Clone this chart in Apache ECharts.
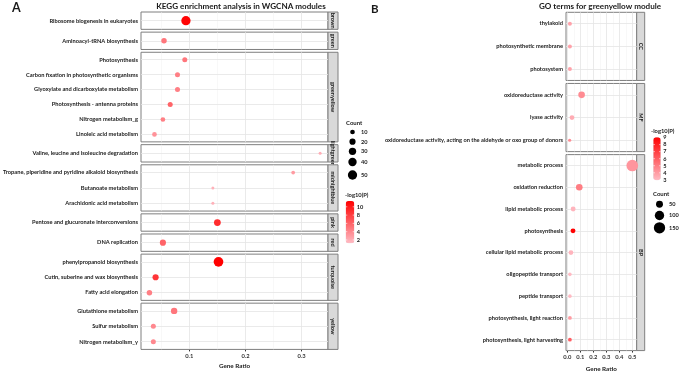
<!DOCTYPE html>
<html>
<head>
<meta charset="utf-8">
<script src="https://cdn.jsdelivr.net/npm/echarts@6/dist/echarts.min.js"></script>
<style>
  html, body { margin: 0; padding: 0; background: #fff; }
  #main { width: 685px; height: 371px; }
</style>
</head>
<body>
<div id="main"></div>
<script>
// ---- panel A: KEGG enrichment, one row per term ----
const keggModule = ['brown', 'green',
  'greenyellow', 'greenyellow', 'greenyellow', 'greenyellow', 'greenyellow', 'greenyellow',
  'lightgreen', 'midnightblue', 'midnightblue', 'midnightblue', 'pink', 'red',
  'turquoise', 'turquoise', 'turquoise', 'yellow', 'yellow', 'yellow'];
const keggTerm = ['Ribosome biogenesis in eukaryotes', 'Aminoacyl-tRNA biosynthesis',
  'Photosynthesis', 'Carbon fixation in photosynthetic organisms', 'Glyoxylate and dicarboxylate metabolism',
  'Photosynthesis - antenna proteins', 'Nitrogen metabolism_g', 'Linoleic acid metabolism',
  'Valine, leucine and isoleucine degradation',
  'Tropane, piperidine and pyridine alkaloid biosynthesis', 'Butanoate metabolism', 'Arachidonic acid metabolism',
  'Pentose and glucuronate interconversions', 'DNA replication',
  'phenylpropanoid biosynthesis', 'Cutin, suberine and wax biosynthesis', 'Fatty acid elongation',
  'Glutathione metabolism', 'Sulfur metabolism', 'Nitrogen metabolism_y'];
const keggRatio = [0.094, 0.055, 0.092, 0.079, 0.079, 0.066, 0.053, 0.038, 0.333, 0.285, 0.142, 0.142,
  0.150, 0.053, 0.152, 0.040, 0.029, 0.073, 0.036, 0.036];
const keggCount = [50, 15, 12, 12, 12, 12, 10, 10, 2, 5, 2, 2, 25, 20, 55, 20, 15, 22, 12, 12];
const keggLogP = [11.2, 5, 5, 4.5, 4.5, 6, 4.5, 3.5, 2, 3, 1.8, 1.8, 9, 6, 11.4, 8.5, 4.5, 5, 4, 4];
const keggXTicks = [0.1, 0.2, 0.3];
const keggXMinor = [0.05, 0.15, 0.25];
const keggCountLegend = [10, 20, 30, 40, 50];
const keggColorTicks = [10, 8, 6, 4, 2];

// ---- panel B: GO terms for greenyellow ----
const goOntology = ['CC', 'CC', 'CC', 'MF', 'MF', 'MF', 'BP', 'BP', 'BP', 'BP', 'BP', 'BP', 'BP', 'BP', 'BP'];
const goTerm = ['thylakoid', 'photosynthetic membrane', 'photosystem',
  'oxidoreductase activity', 'lyase activity',
  'oxidoreductase activity, acting on the aldehyde or oxo group of donors',
  'metabolic process', 'oxidation reduction', 'lipid metabolic process', 'photosynthesis',
  'cellular lipid metabolic process', 'oligopeptide transport', 'peptide transport',
  'photosynthesis, light reaction', 'photosynthesis, light harvesting'];
const goRatio = [0.02, 0.02, 0.02, 0.11, 0.036, 0.018, 0.5, 0.092, 0.045, 0.044, 0.028, 0.02, 0.02, 0.02, 0.02];
const goCount = [10, 10, 10, 45, 18, 3, 160, 45, 20, 20, 18, 6, 6, 8, 8];
const goLogP = [3.8, 3.8, 3.8, 4.5, 3.5, 4.5, 4.2, 5, 3.2, 9, 3.2, 3, 3, 4, 6];
const goXTicks = [0.0, 0.1, 0.2, 0.3, 0.4, 0.5];
const goXMinor = [0.05, 0.15, 0.25, 0.35, 0.45];
const goCountLegend = [50, 100, 150];
const goColorTicks = [9, 8, 7, 6, 5, 4, 3];

const FONT = 'Lato';
const INK = '#1a1a1a';
const sizeA = c => Math.sqrt(6 + 1.6 * c);
const sizeB = c => Math.sqrt(8 + 0.8 * c);

const panels = [
  {
    module: keggModule, term: keggTerm, ratio: keggRatio, count: keggCount, logP: keggLogP,
    left: 141, width: 187, top: 12, unit: 14.45, gap: 2.8, stripW: 10, nameGap: 14,
    xmin: 0.014, xmax: 0.347, ticks: keggXTicks, minor: keggXMinor, size: sizeA
  },
  {
    module: goOntology, term: goTerm, ratio: goRatio, count: goCount, logP: goLogP,
    left: 566, width: 70.7, top: 12.3, unit: 21.3, gap: 3, stripW: 8, nameGap: 10.5,
    xmin: -0.01, xmax: 0.534, ticks: goXTicks, minor: goXMinor, size: sizeB
  }
];

const grids = [], xAxes = [], yAxes = [], series = [], graphics = [];
const seriesOfPanel = [[], []];

panels.forEach((p, pi) => {
  const groups = [];
  p.module.forEach((m, i) => {
    let g = groups.find(x => x.name === m);
    if (!g) { g = { name: m, idx: [] }; groups.push(g); }
    g.idx.push(i);
  });
  let top = p.top;
  groups.forEach((g, gi) => {
    const n = g.idx.length;
    const h = (n + 0.2) * p.unit;
    const last = gi === groups.length - 1;
    const k = grids.length;
    const terms = g.idx.map(i => p.term[i]);
    grids.push({
      left: p.left, top: top, width: p.width, height: h,
      show: true, backgroundColor: '#fff', borderColor: '#7f7f7f', borderWidth: 1,
      outerBoundsMode: 'none'
    });
    xAxes.push({
      gridIndex: k, type: 'value', min: p.xmin, max: p.xmax,
      splitLine: { show: false }, axisLine: { show: false },
      axisTick: { show: last, customValues: p.ticks, length: 2, lineStyle: { color: '#333' } },
      axisLabel: {
        show: last, customValues: p.ticks, margin: 4,
        formatter: v => v.toFixed(1),
        fontSize: 5.8, fontWeight: 'bold', color: '#333', fontFamily: FONT
      },
      name: last ? 'Gene Ratio' : '', nameLocation: 'middle', nameGap: p.nameGap,
      nameTextStyle: { fontSize: 6.3, fontWeight: 'bold', color: INK, fontFamily: FONT }
    });
    yAxes.push({
      gridIndex: k, type: 'category', data: terms, inverse: true,
      axisLine: { show: false }, splitLine: { show: false },
      axisTick: { alignWithLabel: true, length: 2, lineStyle: { color: '#333' } },
      axisLabel: { margin: 3, fontSize: 5.7, fontWeight: 'bold', color: INK, fontFamily: FONT }
    });
    const lines = [];
    p.ticks.forEach(v => lines.push({ xAxis: v, lineStyle: { color: '#e4e4e4', width: 0.8, type: 'solid' } }));
    p.minor.forEach(v => lines.push({ xAxis: v, lineStyle: { color: '#f1f1f1', width: 0.5, type: 'solid' } }));
    terms.forEach(t => lines.push({ yAxis: t, lineStyle: { color: '#e4e4e4', width: 0.8, type: 'solid' } }));
    seriesOfPanel[pi].push(series.length);
    series.push({
      type: 'scatter', xAxisIndex: k, yAxisIndex: k, z: 3,
      data: g.idx.map(i => [p.ratio[i], p.term[i], p.logP[i], p.count[i]]),
      symbolSize: val => p.size(val[3]),
      itemStyle: { opacity: 1 },
      emphasis: { disabled: true },
      markLine: {
        silent: true, z: 1, animation: false, symbol: ['none', 'none'],
        label: { show: false }, emphasis: { disabled: true },
        data: lines
      }
    });
    // strip on the right
    graphics.push({
      type: 'rect', silent: true,
      shape: { x: p.left + p.width, y: top, width: p.stripW, height: h },
      style: { fill: '#d9d9d9', stroke: '#7f7f7f', lineWidth: 1 }
    });
    graphics.push({
      type: 'text', silent: true,
      x: p.left + p.width + p.stripW / 2, y: top + h / 2, rotation: -Math.PI / 2,
      style: { text: g.name, align: 'center', verticalAlign: 'middle', fontSize: 5.6, fontWeight: 'bold',
        fill: INK, fontFamily: FONT }
    });
    top += h + p.gap;
  });
});

// titles and panel letters
function addText(x, y, text, size, align) {
  graphics.push({
    type: 'text', silent: true, x: x, y: y,
    style: { text: text, align: align || 'center', verticalAlign: 'middle', fontSize: size,
      fontWeight: 'bold', fill: INK, fontFamily: FONT }
  });
}
addText(241, 6, 'KEGG enrichment analysis in WGCNA modules', 8.1);
addText(600, 6, 'GO terms for greenyellow module', 8.1);
addText(12, 8, 'A', 12.5, 'left');
addText(371, 9, 'B', 11.5, 'left');

// count legends
function countLegend(x, titleY, cys, counts, sizeFn, labelX) {
  addText(x, titleY, 'Count', 6, 'left');
  counts.forEach((c, i) => {
    graphics.push({
      type: 'circle', silent: true,
      shape: { cx: x + 6.5, cy: cys[i], r: sizeFn(c) / 2 },
      style: { fill: '#000' }
    });
    addText(labelX, cys[i], String(c), 5.6, 'left');
  });
}
countLegend(346, 122.7, [132, 141.7, 151.3, 162, 175], keggCountLegend, sizeA, 361);
countLegend(653, 194, [204.3, 215.5, 227.8], goCountLegend, sizeB, 669);

// colour legends
const colorBars = [
  { min: 1.2, max: 11.4, left: 345.7, top: 201, w: 8.6, h: 42.3, ticks: keggColorTicks, titleX: 345, titleY: 195.5 },
  { min: 2.95, max: 9.05, left: 653.3, top: 137.2, w: 7.4, h: 43, ticks: goColorTicks, titleX: 651, titleY: 131 }
];
const visualMaps = colorBars.map((b, i) => {
  addText(b.titleX, b.titleY, '-log10(P)', 5.8, 'left');
  b.ticks.forEach(t => {
    const y = b.top + (b.max - t) / (b.max - b.min) * b.h;
    graphics.push({
      type: 'line', silent: true, z: 100,
      shape: { x1: b.left, y1: y, x2: b.left + 1.6, y2: y }, style: { stroke: '#fff', lineWidth: 0.6 }
    });
    graphics.push({
      type: 'line', silent: true, z: 100,
      shape: { x1: b.left + b.w - 1.6, y1: y, x2: b.left + b.w, y2: y }, style: { stroke: '#fff', lineWidth: 0.6 }
    });
    addText(b.left + b.w + 2.5, y, String(t), 5.6, 'left');
  });
  return {
    type: 'continuous', min: b.min, max: b.max, dimension: 2,
    seriesIndex: seriesOfPanel[i], calculable: false, hoverLink: false, realtime: false,
    left: b.left, top: b.top, itemWidth: b.w, itemHeight: b.h, padding: 0,
    text: null, showLabel: false,
    inRange: { color: ['#ffbcc5', '#ff0000'] }
  };
});

const chart = echarts.init(document.getElementById('main'), null, { renderer: 'canvas' });
chart.setOption({
  animation: false,
  backgroundColor: '#fff',
  grid: grids,
  xAxis: xAxes,
  yAxis: yAxes,
  visualMap: visualMaps,
  series: series,
  graphic: { elements: graphics }
});
</script>
</body>
</html>
